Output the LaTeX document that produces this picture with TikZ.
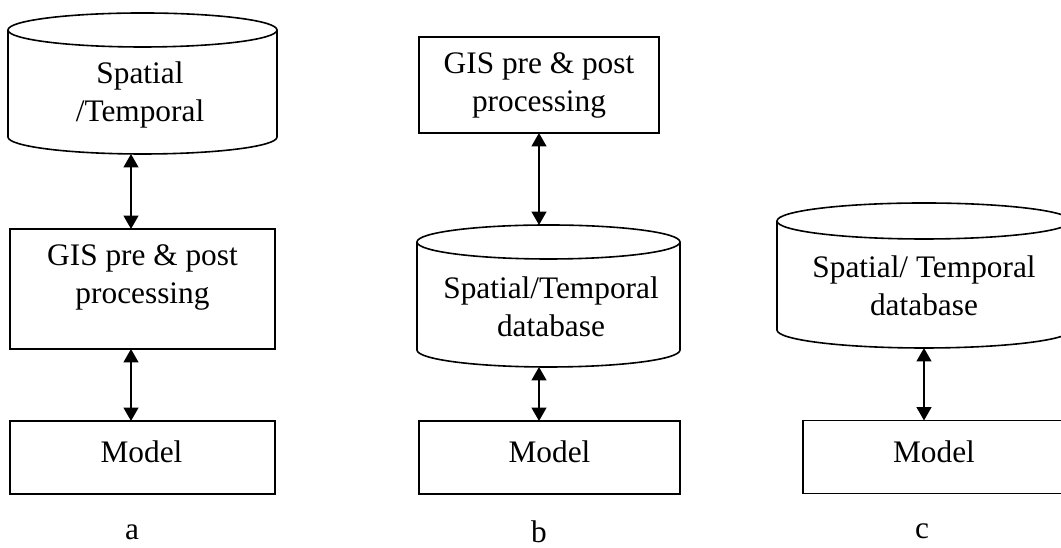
\documentclass[tikz,border=0pt]{standalone}
\usepackage{fontspec}
\setmainfont{Liberation Serif}
\usetikzlibrary{arrows.meta,calc}

% Outline of a database drum around an invisible node:
% #1 node name, #2 horizontal radius, #3 vertical radius of the end ellipses
\newcommand\dbdrum[3]{%
  \draw[drum] ($(#1.north west)+(0,-#3)$) -- ($(#1.south west)+(0,#3)$)
    arc[start angle=180,end angle=360,x radius={#2*0.75pt},y radius={#3*0.75pt}]
    -- ($(#1.north east)+(0,-#3)$);
  \draw[drum] ($(#1.north)+(0,-#3)$) ellipse[x radius={#2*0.75pt},y radius={#3*0.75pt}];
}

\begin{document}
\begin{tikzpicture}[x=0.75pt,y=0.75pt,
  txt/.style={font=\fontsize{23.5pt}{28.5pt}\selectfont,align=center,inner sep=0pt},
  boxnode/.style={draw,line width=1.4pt,inner sep=0pt,outer sep=0pt},
  drumbody/.style={inner sep=0pt,outer sep=0pt},
  drum/.style={line width=1.2pt},
  dbl/.style={line width=1.5pt,
    {Triangle[length=10pt,width=11pt]}-{Triangle[length=10pt,width=11pt]}}]
\useasboundingbox (0,0) rectangle (1061,548);

% columns of the connectors
\coordinate (xa) at (131,0);
\coordinate (xb) at (539,0);
\coordinate (xc) at (924,0);

% ---- column a ----
\node[drumbody,minimum width=201.75pt,minimum height=105.75pt] (cylA) at (142.5,464.5) {};
\dbdrum{cylA}{134.5}{17}
\node[txt] (tCylA) at (140,453) {Spatial\\/Temporal};
\node[boxnode,minimum width=198.75pt,minimum height=90pt] (gisA) at (142.5,259) {};
\node[txt] (tGisA) at (142.5,271) {GIS pre \& post\\processing};
\node[boxnode,minimum width=198.75pt,minimum height=54.75pt] (modA) at (142.5,90.5) {};
\node[txt,anchor=base] (tModA) at (141.5,85) {Model};
\node[txt,anchor=base] (labA) at (132,8) {a};
\draw[dbl] (cylA.south -| xa) -- (gisA.north -| xa);
\draw[dbl] (gisA.south -| xa) -- (modA.north -| xa);

% ---- column b ----
\node[boxnode,minimum width=180pt,minimum height=72pt] (gisB) at (539,463) {};
\node[txt] (tGisB) at (539,463) {GIS pre \& post\\processing};
\node[drumbody,minimum width=197.25pt,minimum height=106.5pt] (cylB) at (548.5,252) {};
\dbdrum{cylB}{131.5}{17}
\node[txt] (tCylB) at (551,241) {Spatial/Temporal\\database};
\node[boxnode,minimum width=195.75pt,minimum height=54.75pt] (modB) at (549.5,90.5) {};
\node[txt,anchor=base] (tModB) at (549.5,85) {Model};
\node[txt,anchor=base] (labB) at (539,5) {b};
\draw[dbl] (gisB.south -| xb) -- (cylB.north -| xb);
\draw[dbl] (cylB.south -| xb) -- (modB.north -| xb);

% ---- column c ----
\node[drumbody,minimum width=220.5pt,minimum height=108.75pt] (cylC) at (924,272.5) {};
\dbdrum{cylC}{147}{18}
\node[txt] (tCylC) at (924,262.5) {Spatial/ Temporal\\database};
\node[boxnode,minimum width=196.5pt,minimum height=54.75pt] (modC) at (934,91) {};
\node[txt,anchor=base] (tModC) at (934,85) {Model};
\node[txt,anchor=base] (labC) at (922,9) {c};
\draw[dbl] (cylC.south -| xc) -- (modC.north -| xc);
\end{tikzpicture}
\end{document}
